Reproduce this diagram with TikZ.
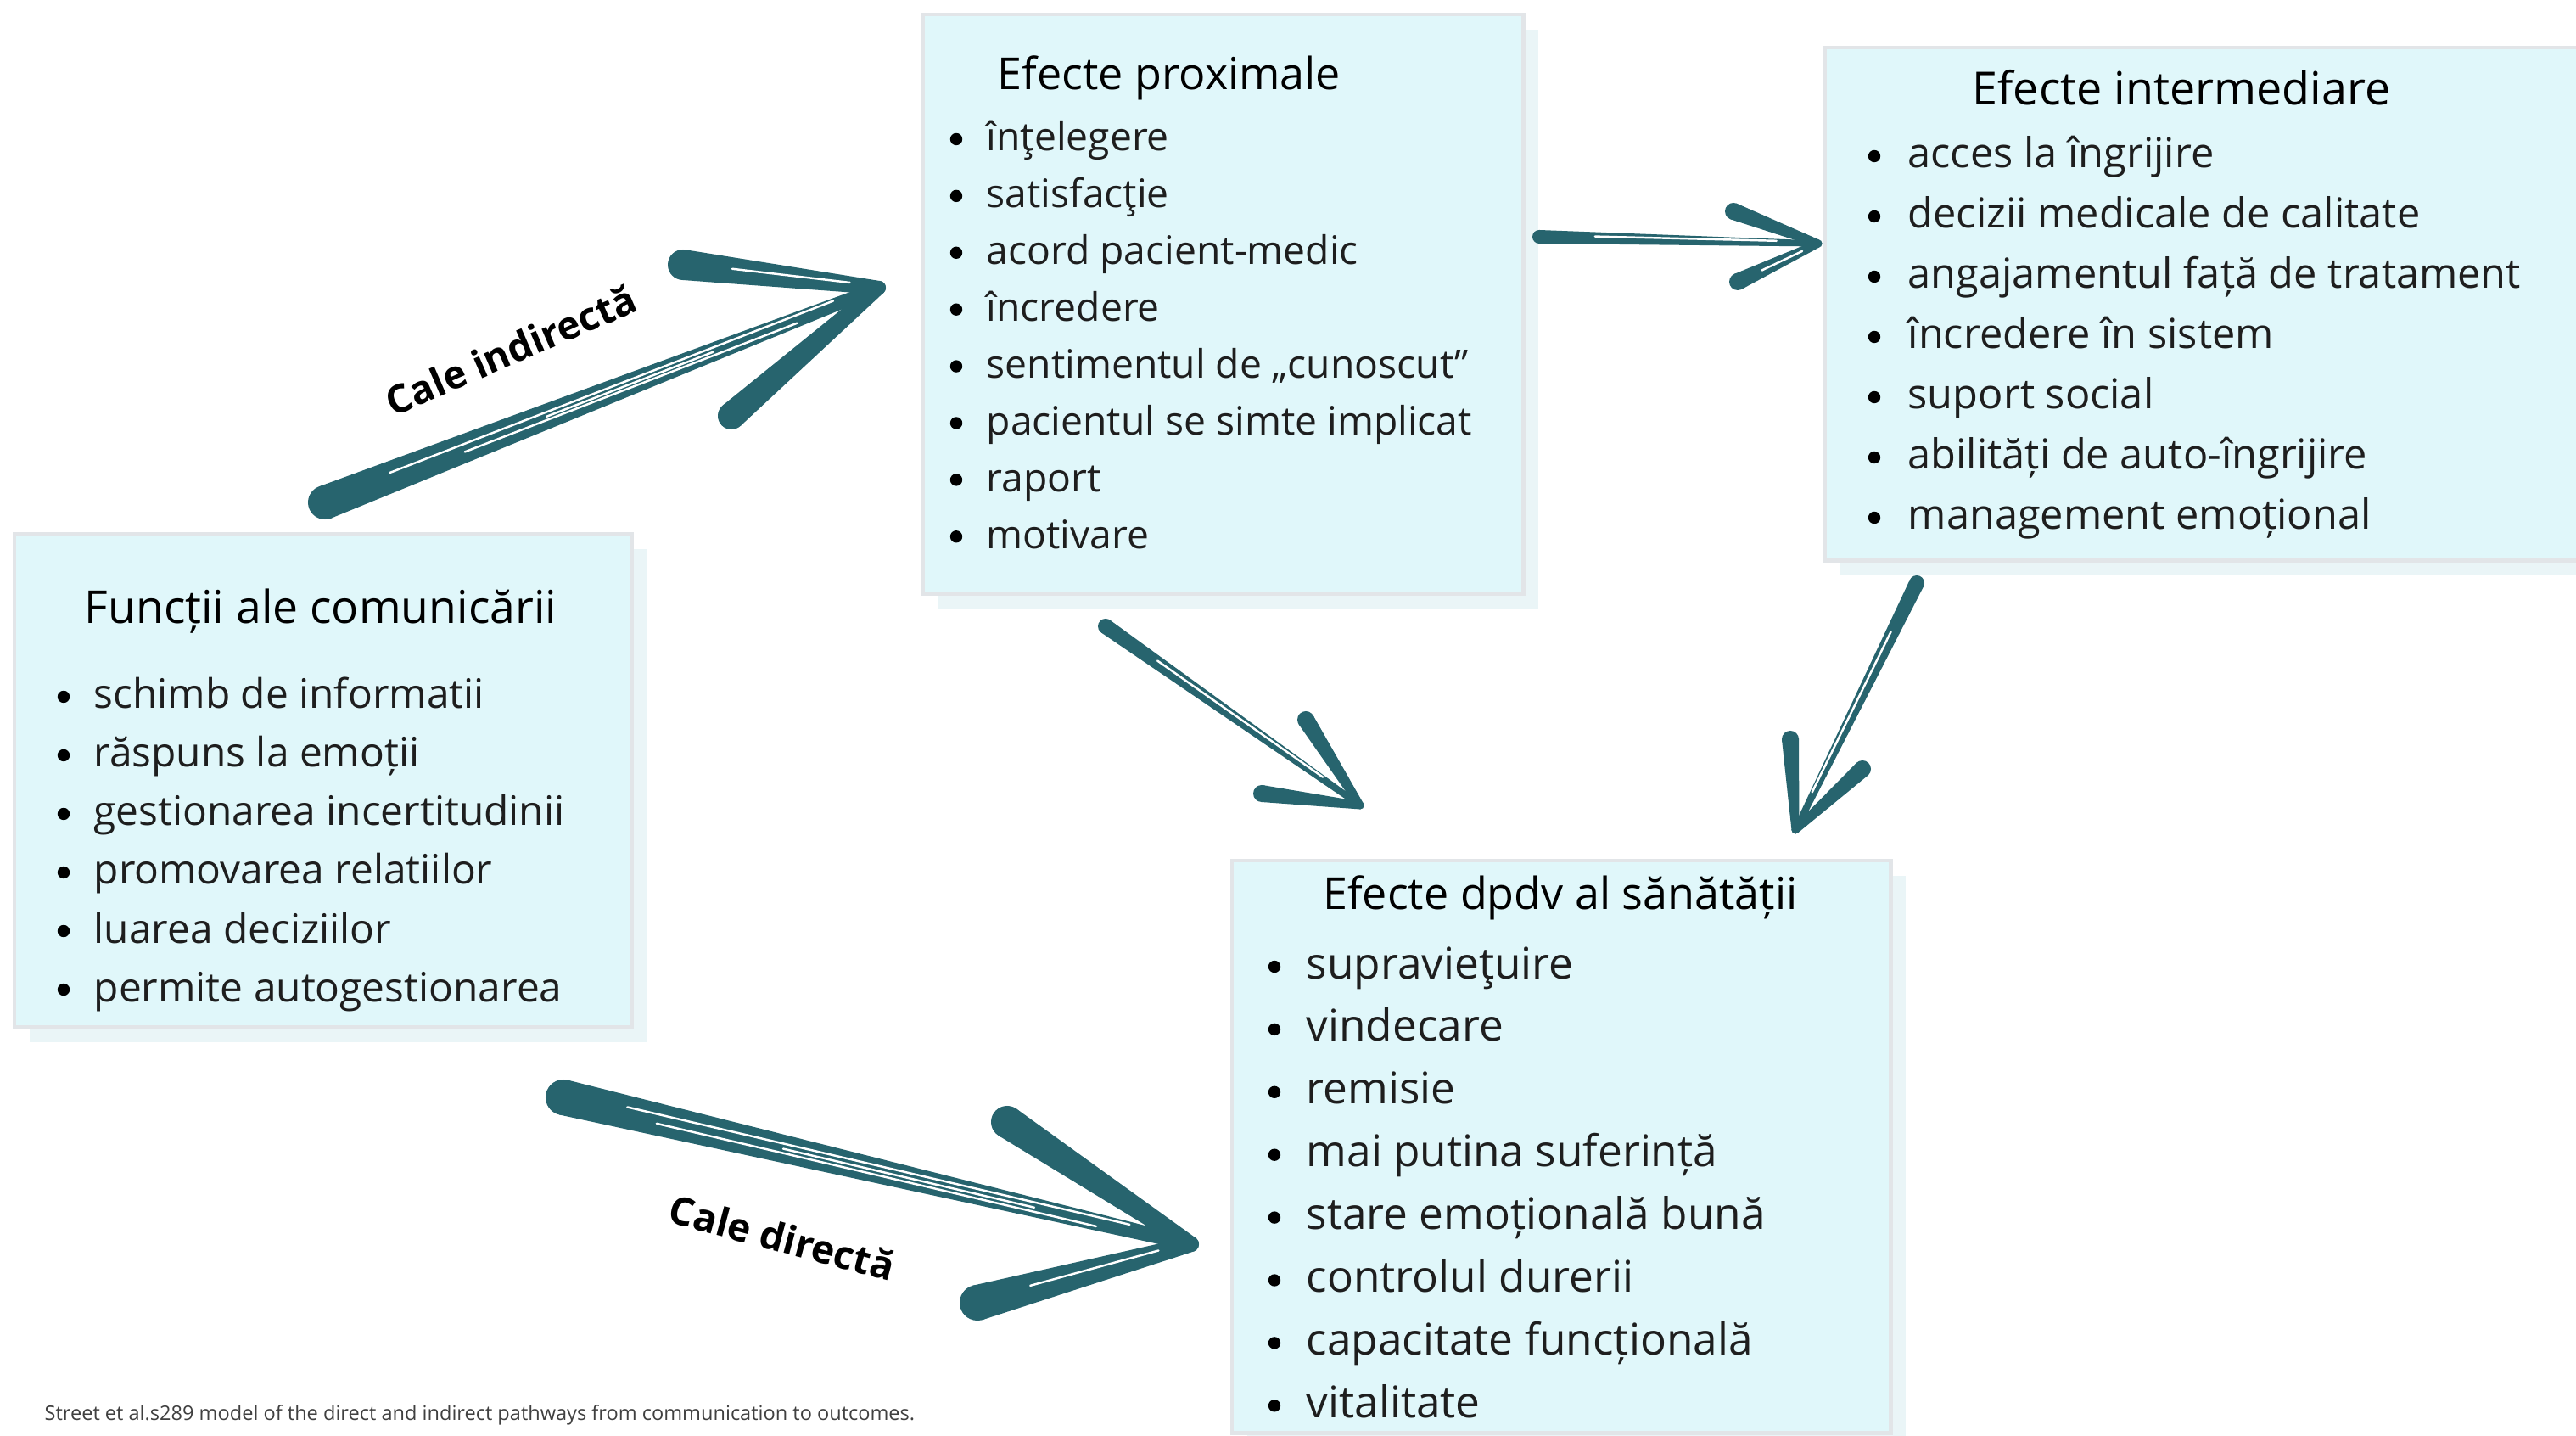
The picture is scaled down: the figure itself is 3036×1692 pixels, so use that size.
\documentclass[tikz,border=0pt]{standalone}
\usepackage{fontspec}
\setmainfont{Open Sans}
\usetikzlibrary{calc,shadows}

\definecolor{ink}{RGB}{39,100,110}
\definecolor{boxfill}{RGB}{224,247,250}
\definecolor{boxline}{RGB}{226,229,232}
\definecolor{boxshade}{RGB}{234,245,247}
\definecolor{txt}{RGB}{30,30,30}

% tapered brush segment: start, end, half width at start, half width at end
\newcommand{\brushseg}[4]{%
  \fill[ink] ($(#1)!#3!90:(#2)$) -- ($(#2)!#4!-90:(#1)$) -- ($(#2)!#4!90:(#1)$) -- ($(#1)!#3!-90:(#2)$) -- cycle;
  \fill[ink] (#1) circle[radius=#3];
  \fill[ink] (#2) circle[radius=#4];}
% thin white dry-brush streak: start, end, from fraction, to fraction, side offset
\newcommand{\brushstreak}[5]{%
  \draw[streak] ($(#1)!#3!(#2)!#5!90:(#2)$) -- ($(#1)!#4!(#2)!#5!90:(#2)$);}

\tikzset{
  panel/.style={draw=boxline, line width=1.4pt, fill=boxfill, inner sep=0pt, outer sep=0pt,
    anchor=north west,
    drop shadow={shadow xshift=0.18cm, shadow yshift=-0.18cm, fill=boxshade, opacity=1}},
  ptitle/.style={anchor=base, inner sep=0pt, text=black, font=\fontsize{14.8pt}{17pt}\selectfont},
  pitem/.style={anchor=base west, inner sep=0pt, text=txt},
  streak/.style={draw=white, line width=0.7pt, line cap=round},
  pathlabel/.style={inner sep=0pt, text=black, font=\bfseries\fontsize{13.1pt}{15pt}\selectfont},
}

\begin{document}
\begin{tikzpicture}[x=0.01cm, y=-0.01cm]
\clip (0,0) rectangle (3036,1692);
\fill[white] (0,0) rectangle (3036,1692);

% ---------- panels ----------
\node[panel, minimum width=7.27cm, minimum height=5.81cm] (func) at (17,629) {};
\node[panel, minimum width=7.07cm, minimum height=6.82cm] (prox) at (1088,17) {};
\node[panel, minimum width=9.20cm, minimum height=6.04cm] (inter) at (2151,56) {};
\node[panel, minimum width=7.76cm, minimum height=6.74cm] (health) at (1452,1014) {};

% ---------- titles ----------
\node[ptitle, font=\fontsize{15.2pt}{17pt}\selectfont] (funcT) at (378,735) {Funcții ale comunicării};
\node[ptitle] (proxT) at (1378,106) {Efecte proximale};
\node[ptitle, font=\fontsize{15.3pt}{17pt}\selectfont] (interT) at (2571,124) {Efecte intermediare};
\node[ptitle] (healthT) at (1839,1071) {Efecte dpdv al sănătății};

% ---------- bullet lists ----------
\foreach \t [count=\i from 0] in {schimb de informatii, răspuns la emoții,
    gestionarea incertitudinii, promovarea relatiilor, luarea deciziilor,
    permite autogestionarea} {
  \node[pitem, font=\fontsize{13.6pt}{16pt}\selectfont] (func\i) at (110,{835+69*\i}) {\t};
  \fill (75,{821+69*\i}) circle[radius=0.072cm];
}
\foreach \t [count=\i from 0] in {înţelegere, satisfacţie, acord pacient-medic,
    încredere, sentimentul de „cunoscut”, pacientul se simte implicat, raport,
    motivare} {
  \node[pitem, font=\fontsize{13.15pt}{16pt}\selectfont] (prox\i) at (1162,{178+66.9*\i}) {\t};
  \fill (1127,{164+66.9*\i}) circle[radius=0.072cm];
}
\foreach \t [count=\i from 0] in {acces la îngrijire, decizii medicale de calitate,
    angajamentul față de tratament, încredere în sistem, suport social,
    abilități de auto-îngrijire, management emoțional} {
  \node[pitem, font=\fontsize{13.85pt}{16pt}\selectfont] (inter\i) at (2248,{198+71*\i}) {\t};
  \fill (2209,{184+71*\i}) circle[radius=0.072cm];
}
\foreach \t [count=\i from 0] in {supravieţuire, vindecare, remisie,
    mai putina suferință, stare emoțională bună, controlul durerii,
    capacitate funcțională, vitalitate} {
  \node[pitem, font=\fontsize{14.6pt}{17pt}\selectfont] (health\i) at (1539,{1153+73.9*\i}) {\t};
  \fill (1502,{1139+73.9*\i}) circle[radius=0.072cm];
}

% ---------- brush arrows ----------
% indirect path: communication -> proximal effects
\coordinate (indT) at (383,592);
\coordinate (indP) at (1036,339);
\coordinate (indU) at (805,312);
\coordinate (indL) at (862,490);
\brushseg{indT}{indP}{0.20cm}{0.07cm}
\brushseg{indU}{indP}{0.18cm}{0.08cm}
\brushseg{indL}{indP}{0.16cm}{0.08cm}
\brushstreak{indT}{indP}{0.12}{0.92}{0.05cm}
\brushstreak{indT}{indP}{0.25}{0.85}{-0.04cm}
\brushstreak{indT}{indP}{0.40}{0.70}{0.0cm}
\brushstreak{indU}{indP}{0.25}{0.85}{0.02cm}

% proximal -> intermediate
\coordinate (piT) at (1814,279);
\coordinate (piP) at (2143,287);
\coordinate (piU) at (2043,249);
\coordinate (piL) at (2048,332);
\brushseg{piT}{piP}{0.08cm}{0.035cm}
\brushseg{piU}{piP}{0.10cm}{0.045cm}
\brushseg{piL}{piP}{0.10cm}{0.045cm}
\brushstreak{piT}{piP}{0.2}{0.85}{0.02cm}
\brushstreak{piL}{piP}{0.3}{0.8}{0.0cm}

% proximal -> health
\coordinate (phT) at (1303,738);
\coordinate (phP) at (1603,949);
\coordinate (phU) at (1539,848);
\coordinate (phL) at (1487,935);
\brushseg{phT}{phP}{0.09cm}{0.035cm}
\brushseg{phU}{phP}{0.10cm}{0.045cm}
\brushseg{phL}{phP}{0.10cm}{0.045cm}
\brushstreak{phT}{phP}{0.2}{0.85}{0.02cm}

% intermediate -> health
\coordinate (ihT) at (2259,687);
\coordinate (ihP) at (2116,978);
\coordinate (ihU) at (2110,871);
\coordinate (ihR) at (2195,906);
\brushseg{ihT}{ihP}{0.09cm}{0.035cm}
\brushseg{ihU}{ihP}{0.10cm}{0.045cm}
\brushseg{ihR}{ihP}{0.10cm}{0.045cm}
\brushstreak{ihT}{ihP}{0.2}{0.85}{-0.02cm}

% direct path: communication -> health
\coordinate (dirT) at (664,1293);
\coordinate (dirP) at (1404,1466);
\coordinate (dirU) at (1187,1322);
\coordinate (dirL) at (1152,1535);
\brushseg{dirT}{dirP}{0.21cm}{0.08cm}
\brushseg{dirU}{dirP}{0.19cm}{0.09cm}
\brushseg{dirL}{dirP}{0.21cm}{0.09cm}
\brushstreak{dirT}{dirP}{0.10}{0.90}{0.06cm}
\brushstreak{dirT}{dirP}{0.15}{0.85}{-0.05cm}
\brushstreak{dirT}{dirP}{0.35}{0.75}{0.0cm}
\brushstreak{dirL}{dirP}{0.25}{0.85}{0.03cm}

% ---------- path labels ----------
\node[pathlabel, rotate=23.5] (indLbl) at (602,412) {Cale indirectă};
\node[pathlabel, rotate=-15] (dirLbl) at (922,1458) {Cale directă};

% ---------- source note ----------
\node[anchor=west, inner sep=0pt, text=txt!85, font=\fontsize{6.7pt}{8pt}\selectfont] (src) at (52,1667)
  {Street et al.s289 model of the direct and indirect pathways from communication to outcomes.};
\end{tikzpicture}
\end{document}
